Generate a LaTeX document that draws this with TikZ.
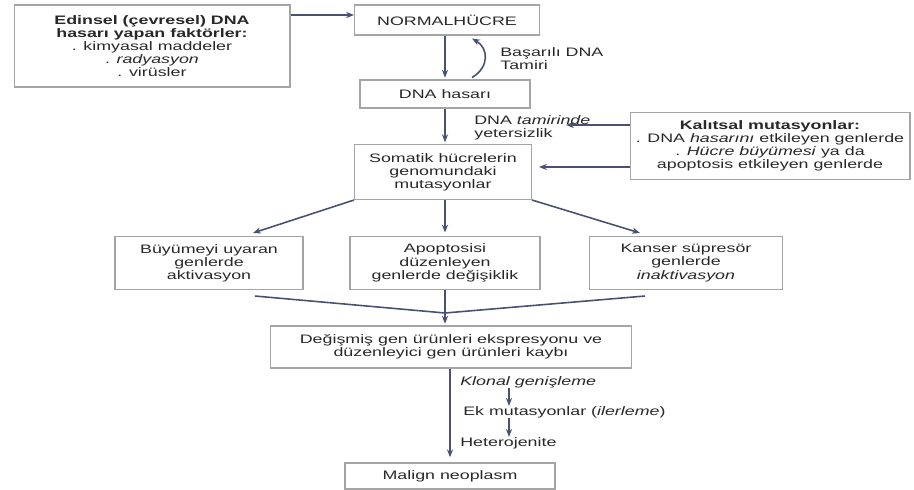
\documentclass[tikz,border=0pt]{standalone}
\usepackage{fontspec}
\setmainfont{Liberation Sans}[FakeStretch=1.45]
\usetikzlibrary{arrows.meta, calc}
\definecolor{arrowc}{RGB}{72,82,112}
\definecolor{boxc}{RGB}{165,165,165}
\definecolor{txtc}{RGB}{40,40,40}

\begin{document}
\begin{tikzpicture}[x=0.02cm, y=-0.02cm,
    every node/.style={font=\fontsize{7}{7.5}\selectfont, text=txtc},
    box/.style={draw=boxc, line width=0.6pt, align=center, inner sep=2pt},
    arr/.style={draw=arrowc, line width=0.9pt, -{Stealth[length=4.5pt,width=3.5pt]}},
    merge/.style={draw=arrowc, line width=0.9pt},
    lbl/.style={align=left, anchor=west, inner sep=0pt}]
    \useasboundingbox (0,0) rectangle (914,490);

    % boxes
    \node[box, minimum width=5.52cm, minimum height=1.64cm] (env) at (152,46)
        {\textbf{Edinsel (çevresel) DNA}\\\textbf{hasarı yapan faktörler:}\\. kimyasal maddeler\\. \textit{radyasyon}\\. virüsler};
    \node[box, minimum width=3.7cm, minimum height=0.6cm] (normal) at (447,20) {NORMALHÜCRE};
    \node[box, minimum width=3.4cm, minimum height=0.56cm] (hasar) at (445,94) {DNA hasarı};
    \node[box, minimum width=3.54cm, minimum height=1.1cm] (somatik) at (443,172)
        {Somatik hücrelerin\\genomundaki\\mutasyonlar};
    \node[box, minimum width=5.6cm, minimum height=1.34cm] (kalitsal) at (770,146)
        {\textbf{Kalıtsal mutasyonlar:}\\. DNA \textit{hasarını} etkileyen genlerde\\. \textit{Hücre büyümesi} ya da\\apoptosis etkileyen genlerde};
    \node[box, minimum width=3.76cm, minimum height=1.06cm] (buyume) at (209,263)
        {Büyümeyi uyaran\\genlerde\\aktivasyon};
    \node[box, minimum width=3.8cm, minimum height=1.06cm] (apop) at (445,263)
        {Apoptosisi\\düzenleyen\\genlerde değişiklik};
    \node[box, minimum width=3.86cm, minimum height=1.06cm] (kanser) at (686,263)
        {Kanser süpresör\\genlerde\\\textit{inaktivasyon}};
    \node[box, minimum width=7.24cm, minimum height=0.84cm] (degis) at (451,347)
        {Değişmiş gen ürünleri ekspresyonu ve\\düzenleyici gen ürünleri kaybı};
    \node[box, minimum width=4.2cm, minimum height=0.52cm] (malign) at (450,476) {Malign neoplasm};

    % labels
    \node[lbl] (basari) at (500,59) {Başarılı DNA\\Tamiri};
    \node[lbl] (tamir) at (474,128) {DNA \textit{tamirinde}\\yetersizlik};
    \node[lbl] (klonal) at (460,382) {\textit{Klonal genişleme}};
    \node[lbl] (ekmut) at (463,412) {Ek mutasyonlar (\textit{ilerleme})};
    \node[lbl] (hetero) at (460,443) {Heterojenite};

    \coordinate (top) at (0,15);
    \coordinate (tip) at (566,125);
    \coordinate (merge) at (445,313);
    \coordinate (sm) at (509,0);
    \coordinate (k2) at ($(kalitsal.west)+(0,21)$);

    % arrows
    \draw[arr] (env.east |- top) -- (normal.west |- top);
    \draw[arr, shorten >=1pt] (normal.south -| hasar) -- (hasar.north);
    \draw[arr] ($(hasar.north)+(27,-2)$) to[bend right=60, looseness=1.3] ($(normal.south)+(25,3)$);
    \draw[arr, shorten >=1pt] (hasar.south) -- (hasar.south |- somatik.north);
    \draw[arr] ($(kalitsal.west)+(0,-21)$) -- (tip);
    \draw[arr, shorten >=4pt] (k2) -- (somatik.east |- k2);

    \draw[arr] (somatik.south west) -- ($(buyume.north)+(44,-3)$);
    \draw[arr, shorten >=2pt] (somatik.south -| apop) -- (apop.north);
    \draw[arr] (somatik.south east) -- ($(kanser.north)+(-46,-3)$);

    \draw[merge] ($(buyume.south)+(46,6)$) -- (merge) -- ($(kanser.south)+(-41,6)$);
    \draw[arr, shorten >=1pt] (apop.south) -- (apop.south |- degis.north);
    \draw[arr, shorten >=3pt] (degis.south -| malign) -- (malign.north);

    \draw[arr, line width=0.6pt] (klonal.south -| sm) -- (ekmut.north -| sm);
    \draw[arr, line width=0.6pt] (ekmut.south -| sm) -- (hetero.north -| sm);
\end{tikzpicture}
\end{document}
